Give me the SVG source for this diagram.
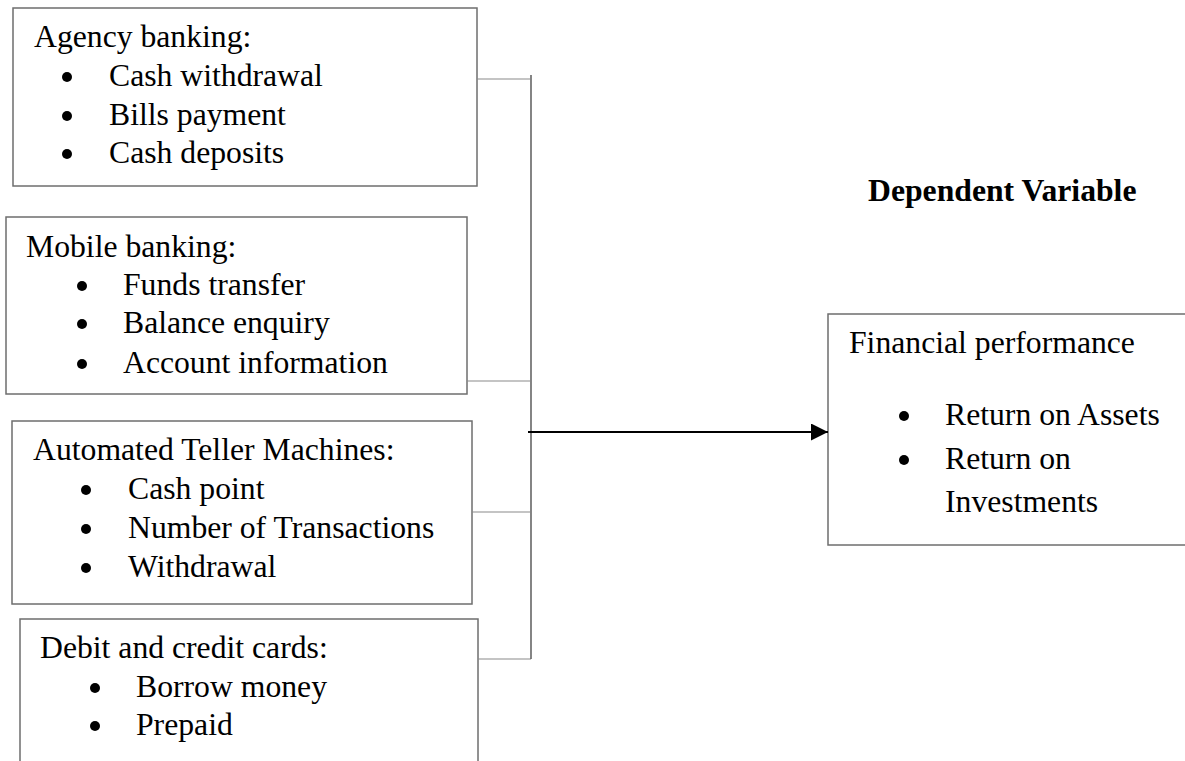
<svg xmlns="http://www.w3.org/2000/svg" width="1185" height="761" viewBox="0 0 1185 761">
<defs>
<style>
.box{fill:#fff;stroke:#6e6e6e;stroke-width:1.5}
.t{font-family:"Liberation Serif","Times New Roman",serif;font-size:31.7px;fill:#000}
.b{font-weight:bold}
.dot{fill:#000}
.conn{stroke:#8a8a8a;stroke-width:1.2;fill:none}
.trunk{stroke:#666;stroke-width:1.6;fill:none}
.arrow{stroke:#000;stroke-width:2.2;fill:none}
</style>
<marker id="ah" markerWidth="17" markerHeight="17" refX="17" refY="8.5" orient="auto" markerUnits="userSpaceOnUse">
<path d="M0,0 L17,8.5 L0,17 Z" fill="#000"/>
</marker>
</defs>
<rect width="1185" height="761" fill="#fff"/>

<g id="agency">
<rect class="box" x="13" y="8" width="464" height="178"/>
<text class="t" x="34" y="47">Agency banking:</text>
<circle class="dot" cx="67" cy="77" r="5"/>
<text class="t" x="109" y="86">Cash withdrawal</text>
<circle class="dot" cx="67" cy="116" r="5"/>
<text class="t" x="109" y="125">Bills payment</text>
<circle class="dot" cx="67" cy="154" r="5"/>
<text class="t" x="109" y="163">Cash deposits</text>
</g>

<g id="mobile">
<rect class="box" x="6" y="217" width="461" height="177"/>
<text class="t" x="26" y="257">Mobile banking:</text>
<circle class="dot" cx="82" cy="286" r="5"/>
<text class="t" x="123" y="295">Funds transfer</text>
<circle class="dot" cx="82" cy="324" r="5"/>
<text class="t" x="123" y="333">Balance enquiry</text>
<circle class="dot" cx="82" cy="364" r="5"/>
<text class="t" x="123" y="373">Account information</text>
</g>

<g id="atm">
<rect class="box" x="12" y="421" width="460" height="183"/>
<text class="t" x="33" y="460">Automated Teller Machines:</text>
<circle class="dot" cx="86" cy="490" r="5"/>
<text class="t" x="128" y="499">Cash point</text>
<circle class="dot" cx="86" cy="529" r="5"/>
<text class="t" x="128" y="538">Number of Transactions</text>
<circle class="dot" cx="86" cy="568" r="5"/>
<text class="t" x="128" y="577">Withdrawal</text>
</g>

<g id="cards">
<rect class="box" x="20" y="619" width="458" height="160"/>
<text class="t" x="40" y="658">Debit and credit cards:</text>
<circle class="dot" cx="95" cy="688" r="5"/>
<text class="t" x="136" y="697">Borrow money</text>
<circle class="dot" cx="95" cy="726" r="5"/>
<text class="t" x="136" y="735">Prepaid</text>
</g>

<g id="dependent-label">
<text class="t b" x="868" y="201">Dependent Variable</text>
</g>

<g id="financial">
<rect class="box" x="828" y="314" width="380" height="231"/>
<text class="t" x="849" y="353">Financial performance</text>
<circle class="dot" cx="904" cy="416" r="5"/>
<text class="t" x="945" y="425">Return on Assets</text>
<circle class="dot" cx="904" cy="460" r="5"/>
<text class="t" x="945" y="469">Return on</text>
<text class="t" x="945" y="512">Investments</text>
</g>

<g id="connectors">
<line class="conn" x1="477" y1="79" x2="530" y2="79"/>
<line class="conn" x1="467" y1="381" x2="530" y2="381"/>
<line class="conn" x1="472" y1="512" x2="530" y2="512"/>
<line class="conn" x1="478" y1="659" x2="531" y2="659"/>
<line class="trunk" x1="531" y1="75" x2="531" y2="659"/>
<line class="arrow" x1="528" y1="432" x2="828" y2="432" marker-end="url(#ah)"/>
</g>
</svg>
